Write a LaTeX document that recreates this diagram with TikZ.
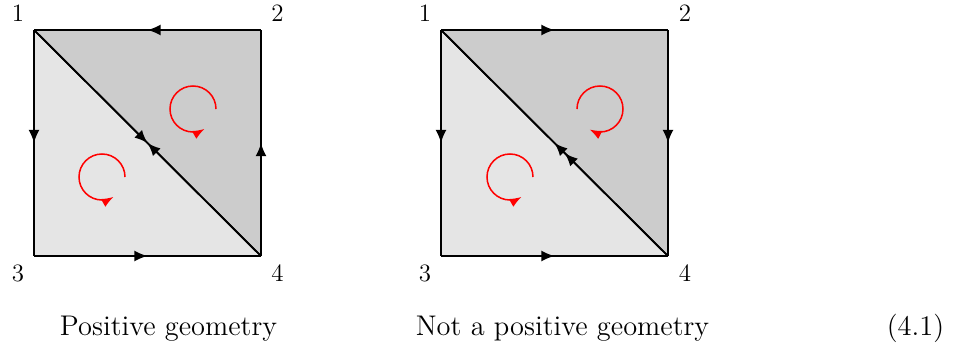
\documentclass[tikz,border=0pt]{standalone}
\usetikzlibrary{decorations.markings,arrows.meta}
\tikzset{
  edgeline/.style={line width=0.8pt},
  midarr/.style={postaction={decorate},decoration={markings,mark=at position #1 with {\arrow{Latex[length=6pt,width=5pt]}}}},
  orient/.style={red,line width=0.7pt,-{Latex[length=5.5pt,width=4.2pt]}},
  lbl/.style={inner sep=0pt,font=\fontsize{11.5}{13}\selectfont},
  captext/.style={inner sep=0pt,anchor=base,font=\fontsize{13.1}{15}\selectfont},
}
\begin{document}
\begin{tikzpicture}[x=0.4608pt,y=-0.4608pt]
\useasboundingbox (0,0) rectangle (957,347);
% ---------- left square
\coordinate (L1) at (34,30);
\coordinate (L2) at (261,30);
\coordinate (L3) at (34,256);
\coordinate (L4) at (261,256);
\fill[black!20] (L1)--(L2)--(L4)--cycle;
\fill[black!10] (L1)--(L3)--(L4)--cycle;
\draw[edgeline,midarr=0.5] (L2)--(L1);
\draw[edgeline,midarr=0.5] (L1)--(L3);
\draw[edgeline,midarr=0.5] (L3)--(L4);
\draw[edgeline,midarr=0.5] (L4)--(L2);
\draw[edgeline,midarr=0.5] (L1)--(L4);
\draw[edgeline,midarr=0.5] (L4)--(L1);
\coordinate (LcA) at (193,109);
\coordinate (LcB) at (102,177);
\draw[orient] ([shift={(0:10.6pt)}]LcA) arc[start angle=0,end angle=300,radius=10.6pt];
\draw[orient] ([shift={(0:10.6pt)}]LcB) arc[start angle=0,end angle=300,radius=10.6pt];
\node[lbl] (l1) at (18,13) {1};
\node[lbl] (l2) at (277.5,13) {2};
\node[lbl] (l3) at (18,273) {3};
\node[lbl] (l4) at (277.5,273) {4};
% ---------- right square
\coordinate (R1) at (441,30);
\coordinate (R2) at (668,30);
\coordinate (R3) at (441,256);
\coordinate (R4) at (668,256);
\fill[black!20] (R1)--(R2)--(R4)--cycle;
\fill[black!10] (R1)--(R3)--(R4)--cycle;
\draw[edgeline,midarr=0.5] (R1)--(R2);
\draw[edgeline,midarr=0.5] (R1)--(R3);
\draw[edgeline,midarr=0.5] (R3)--(R4);
\draw[edgeline,midarr=0.5] (R2)--(R4);
\draw[edgeline,midarr=0.5] (R4)--(R1);
\draw[edgeline,midarr=0.455] (R4)--(R1);
\coordinate (RcA) at (600,109);
\coordinate (RcB) at (510,177);
\draw[orient] ([shift={(180:10.6pt)}]RcA) arc[start angle=180,end angle=-117,radius=10.6pt];
\draw[orient] ([shift={(0:10.6pt)}]RcB) arc[start angle=0,end angle=300,radius=10.6pt];
\node[lbl] (r1) at (425,13) {1};
\node[lbl] (r2) at (685,13) {2};
\node[lbl] (r3) at (425,273) {3};
\node[lbl] (r4) at (685,273) {4};
% ---------- captions
\node[captext] (capL) at (168.5,335) {Positive geometry};
\node[captext] (capR) at (562.5,335) {Not a positive geometry};
\node[captext] (eqn) at (915.5,335) {(4.1)};
\end{tikzpicture}
\end{document}
